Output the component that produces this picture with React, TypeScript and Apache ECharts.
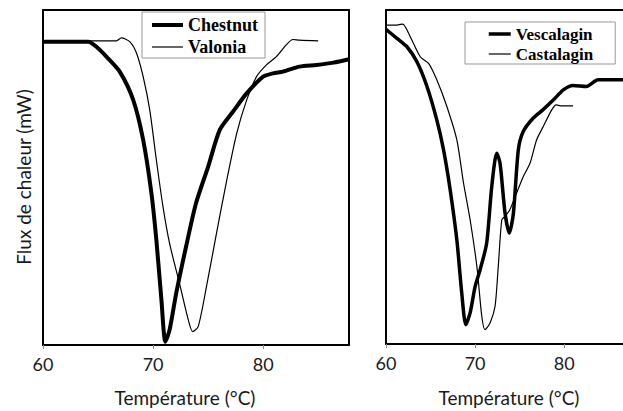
import React, { useEffect, useRef } from "react";
import * as echarts from "echarts";

// Temperature (°C) / heat flow (arbitrary units, 0 = panel bottom, 100 = panel top)
const chestnut: [number, number][] = [
  [60, 90.5], [64.1, 90.5], [65.0, 88.6], [65.76, 86.1], [66.97, 81.6], [68.2, 73.1],
  [69.1, 61.2], [69.85, 45.3], [70.3, 31.3], [70.76, 13.4], [71.12, 1.0], [71.5, 4.5],
  [72.1, 15.4], [73.0, 29.4], [73.9, 42.3], [75.0, 53.2], [76.06, 64.2], [77.27, 69.7],
  [78.5, 75.1], [80.0, 80.1], [80.9, 81.1], [81.8, 81.6], [83.3, 83.1], [84.85, 83.6],
  [86.4, 84.3], [87.8, 85.3],
];
const valonia: [number, number][] = [
  [60, 90.8], [66.67, 90.8], [67.12, 91.7], [67.9, 90.5], [68.5, 87.1], [69.1, 80.1],
  [69.7, 70.1], [70.3, 55.2], [70.9, 41.3], [71.5, 30.3], [72.4, 18.4], [73.2, 7.5],
  [73.6, 4.0], [74.1, 5.5], [74.85, 17.4], [75.76, 33.3], [76.7, 49.3], [77.6, 63.2],
  [78.5, 73.1], [79.4, 80.1], [80.3, 83.6], [81.2, 86.1], [82.1, 89.6], [82.7, 91.2],
  [83.3, 91.0], [85.0, 90.8],
];
const vescalagin: [number, number][] = [
  [60, 94.2], [61.23, 91.5], [62.35, 89.0], [63.47, 84.5], [64.6, 77.1], [65.7, 67.1],
  [66.46, 58.1], [67.2, 46.2], [67.95, 31.2], [68.5, 15.3], [68.96, 5.8], [69.44, 9.3],
  [70.0, 17.2], [70.56, 22.2], [71.3, 30.2], [71.87, 47.2], [72.43, 57.1], [72.8, 54.1],
  [73.36, 39.2], [73.84, 33.2], [74.3, 39.2], [74.85, 58.1], [75.4, 63.6], [76.5, 67.6],
  [77.6, 70.1], [78.8, 73.1], [79.9, 76.1], [81.0, 77.4], [82.5, 77.1], [83.8, 79.1],
  [86.6, 79.1],
];
const castalagin: [number, number][] = [
  [60, 95.5], [61.2, 95.5], [61.87, 95.8], [62.72, 92.0], [63.84, 86.0], [64.78, 84.0],
  [65.7, 79.1], [66.83, 71.1], [67.95, 61.1], [68.7, 48.2], [69.44, 37.2], [70.2, 23.2],
  [70.75, 8.3], [71.1, 4.3], [71.68, 6.3], [72.24, 11.3], [72.6, 23.2], [73.0, 37.2],
  [73.36, 38.2], [73.9, 40.2], [74.66, 45.2], [75.4, 50.1], [76.16, 54.1], [76.9, 61.1],
  [77.65, 65.1], [78.6, 70.1], [79.1, 71.6], [79.7, 71.3], [81.0, 71.3],
];

const leftNames = ["Chestnut", "Valonia"];
const rightNames = ["Vescalagin", "Castalagin"];
const xTitle = "Température (°C)";
const yTitle = "Flux de chaleur (mW)";

export default function App() {
  const ref = useRef<HTMLDivElement>(null);
  useEffect(() => {
    document.body.style.margin = "0";
    const chart = echarts.init(ref.current!, null, { renderer: "svg" });
    const axisFont = { fontFamily: "Lato", fontSize: 18, color: "#1a1a1a" };
    const titleStyle = { fontFamily: "Lato", fontSize: 19, fill: "#1a1a1a", align: "center", verticalAlign: "middle" };
    const frame = { show: true, lineStyle: { color: "#000", width: 2 } };
    const bottomX = (grid: number, max: number) => ({
      type: "value", gridIndex: grid, min: 60, max, interval: 10, position: "bottom",
      axisLine: { ...frame, onZero: false },
      axisTick: { show: true, length: 4, lineStyle: { color: "#888", width: 1 } },
      axisLabel: { ...axisFont, margin: 10, showMaxLabel: false },
      splitLine: { show: false },
    });
    const topX = (grid: number, max: number) => ({
      type: "value", gridIndex: grid, min: 60, max, position: "top",
      axisLine: { ...frame, onZero: false }, axisTick: { show: false },
      axisLabel: { show: false }, splitLine: { show: false },
    });
    const yAx = (grid: number, pos: string) => ({
      type: "value", gridIndex: grid, min: 0, max: 100, position: pos,
      axisLine: { ...frame, onZero: false }, axisTick: { show: false },
      axisLabel: { show: false }, splitLine: { show: false },
    });
    const line = (name: string, data: [number, number][], xi: number, yi: number, w: number) => ({
      type: "line", name, data, xAxisIndex: xi, yAxisIndex: yi, symbol: "none",
      smooth: 0.25, lineStyle: { color: "#000", width: w }, itemStyle: { color: "#000" },
    });
    const legendText = (size: number, lh: number) => ({
      fontFamily: "Liberation Serif", fontWeight: "bold", fontSize: size, color: "#000", lineHeight: lh,
    });
    const hiddenSymbol = { color: "rgba(0,0,0,0)", borderWidth: 0, opacity: 0 };
    const legendLine = { width: "inherit", color: "#000" };
    chart.setOption({
      animation: false,
      grid: [
        { left: 43, top: 10, width: 306, height: 335 },
        { left: 386, top: 10, width: 237, height: 334 },
      ],
      xAxis: [bottomX(0, 87.8), topX(0, 87.8), bottomX(1, 86.6), topX(1, 86.6)],
      yAxis: [yAx(0, "left"), yAx(0, "right"), yAx(1, "left")],
      legend: [
        {
          data: leftNames, orient: "vertical", left: 142, top: 12, itemWidth: 31, itemHeight: 14,
          itemGap: 2, padding: [3, 7, 1, 8], borderColor: "#999", borderWidth: 1,
          textStyle: legendText(18, 20), itemStyle: hiddenSymbol, lineStyle: legendLine,
        },
        {
          data: rightNames, orient: "vertical", left: 465, top: 22, itemWidth: 22, itemHeight: 14,
          itemGap: 2, padding: [3, 22, 1, 22], borderColor: "#999", borderWidth: 1,
          textStyle: legendText(17, 18), itemStyle: hiddenSymbol, lineStyle: legendLine,
        },
      ],
      series: [
        line("Chestnut", chestnut, 0, 0, 4),
        line("Valonia", valonia, 0, 0, 1.2),
        line("Vescalagin", vescalagin, 2, 2, 3.5),
        line("Castalagin", castalagin, 2, 2, 1.2),
      ],
      graphic: [
        { type: "text", x: 185, y: 397, style: { text: xTitle, ...titleStyle } },
        { type: "text", x: 509, y: 397, style: { text: xTitle, ...titleStyle } },
        { type: "text", x: 23, y: 177, rotation: Math.PI / 2, style: { text: yTitle, ...titleStyle } },
      ],
    });
    return () => chart.dispose();
  }, []);
  return <div ref={ref} style={{ width: 623, height: 411 }} />;
}
